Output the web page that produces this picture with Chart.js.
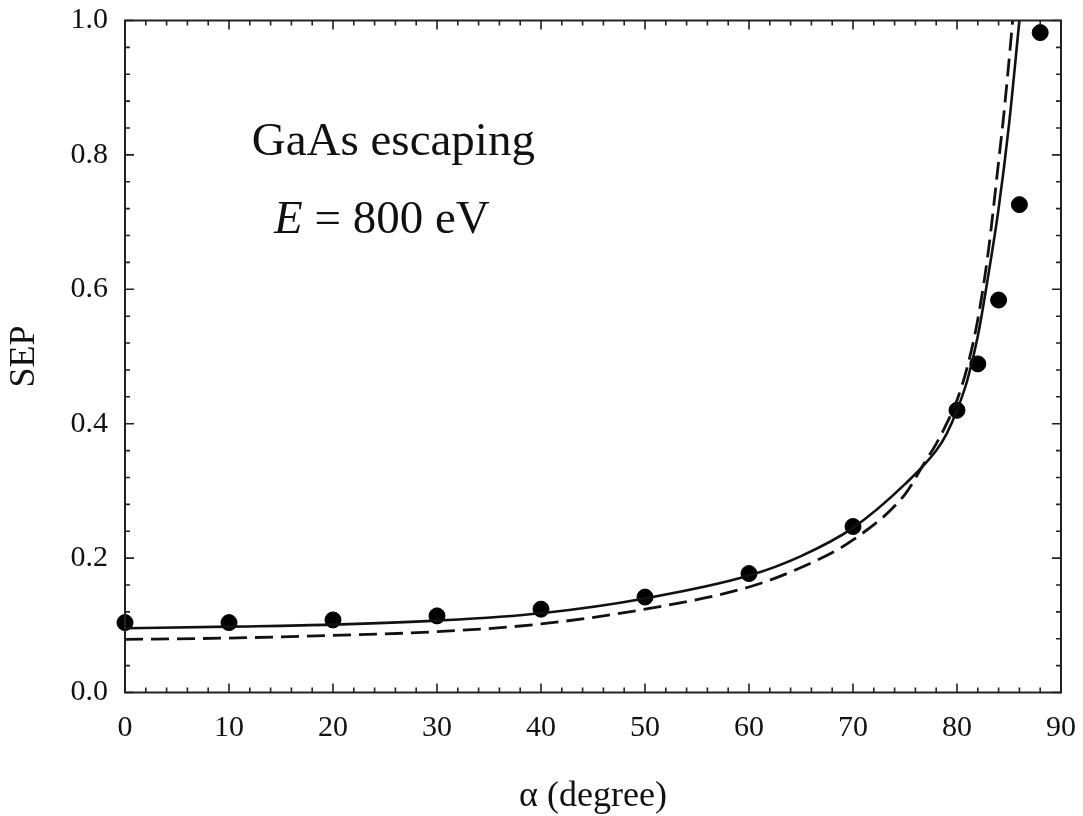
<!DOCTYPE html>
<html>
<head>
  <meta charset="utf-8">
  <title>GaAs escaping SEP</title>
  <script src="https://cdn.jsdelivr.net/npm/chart.js"></script>
  <style>
    body { margin: 0; background: #fff; }
    #wrap { width: 1083px; height: 816px; }
  </style>
</head>
<body>
  <div id="wrap"><canvas id="chart"></canvas></div>
  <script>
    // measured points (filled circles)
    const measAngle = [0, 10, 20, 30, 40, 50, 60, 70, 80, 82, 84, 86, 88];
    const measSEP   = [0.104, 0.104, 0.108, 0.114, 0.124, 0.142, 0.177, 0.247, 0.420, 0.489, 0.584, 0.726, 0.982];

    // solid curve
    const solidAngle = [0, 10, 20, 30, 40, 50, 60, 65, 70, 75, 78, 79, 80, 81, 82, 83, 84, 85, 86];
    const solidSEP   = [0.0955, 0.098, 0.101, 0.107, 0.118, 0.140, 0.174, 0.203, 0.245, 0.31, 0.36, 0.385, 0.42, 0.465, 0.53, 0.62, 0.72, 0.845, 1.0];

    // dashed curve
    const dashAngle = [0, 10, 20, 30, 40, 50, 60, 65, 70, 75, 77, 78, 79, 80, 81, 82, 83, 84, 84.5, 85, 85.35];
    const dashSEP   = [0.079, 0.081, 0.085, 0.0905, 0.102, 0.124, 0.157, 0.186, 0.227, 0.295, 0.345, 0.37, 0.40, 0.435, 0.485, 0.555, 0.655, 0.79, 0.86, 0.94, 1.0];

    const xTicks = [0, 10, 20, 30, 40, 50, 60, 70, 80, 90];
    const yTicks = [0, 0.2, 0.4, 0.6, 0.8, 1.0];

    const pts = (xs, ys) => xs.map((x, i) => ({ x: x, y: ys[i] }));

    const serif = '"Liberation Serif", "DejaVu Serif", serif';
    const ink = '#111';

    const noPad = s => { s.paddingTop = 0; s.paddingBottom = 0; s.paddingLeft = 0; s.paddingRight = 0; };

    // frame with inward major/minor ticks on all four sides
    const framePlugin = {
      id: 'frame',
      afterDatasetsDraw(chart) {
        const { ctx, chartArea: a, scales: { x, y } } = chart;
        ctx.save();
        ctx.strokeStyle = '#222';
        ctx.lineWidth = 2;
        ctx.strokeRect(a.left, a.top, a.right - a.left, a.bottom - a.top);
        ctx.lineWidth = 1.6;
        ctx.beginPath();
        for (let v = 0; v <= 90; v += 2) {
          const px = x.getPixelForValue(v);
          const len = v % 10 === 0 ? 9 : 5;
          ctx.moveTo(px, a.bottom); ctx.lineTo(px, a.bottom - len);
          ctx.moveTo(px, a.top); ctx.lineTo(px, a.top + len);
        }
        for (let k = 0; k <= 25; k++) {
          const v = k * 0.04;
          const py = y.getPixelForValue(v);
          const len = k % 5 === 0 ? 9 : 5;
          ctx.moveTo(a.left, py); ctx.lineTo(a.left + len, py);
          ctx.moveTo(a.right, py); ctx.lineTo(a.right - len, py);
        }
        ctx.stroke();

        // annotation
        ctx.fillStyle = ink;
        ctx.textBaseline = 'alphabetic';
        ctx.textAlign = 'center';
        ctx.font = '47px ' + serif;
        ctx.fillText('GaAs escaping', x.getPixelForValue(25.8), y.getPixelForValue(0.8));
        const rest = ' = 800 eV';
        ctx.font = 'italic 47px ' + serif;
        const wE = ctx.measureText('E').width;
        ctx.font = '47px ' + serif;
        const wR = ctx.measureText(rest).width;
        const cx = x.getPixelForValue(24.7);
        const by = y.getPixelForValue(0.684);
        const x0 = cx - (wE + wR) / 2;
        ctx.textAlign = 'left';
        ctx.font = 'italic 47px ' + serif;
        ctx.fillText('E', x0, by);
        ctx.font = '47px ' + serif;
        ctx.fillText(rest, x0 + wE, by);
        ctx.restore();
      }
    };

    new Chart(document.getElementById('chart'), {
      type: 'scatter',
      data: {
        datasets: [
          {
            type: 'line',
            data: pts(solidAngle, solidSEP),
            borderColor: ink,
            borderWidth: 2.6,
            pointRadius: 0,
            cubicInterpolationMode: 'monotone',
            fill: false
          },
          {
            type: 'line',
            data: pts(dashAngle, dashSEP),
            borderColor: ink,
            borderWidth: 2.8,
            borderDash: [18, 8],
            pointRadius: 0,
            cubicInterpolationMode: 'monotone',
            fill: false
          },
          {
            data: pts(measAngle, measSEP),
            backgroundColor: '#000',
            borderColor: '#000',
            borderWidth: 1,
            pointRadius: 8,
            clip: false
          }
        ]
      },
      options: {
        responsive: true,
        maintainAspectRatio: false,
        animation: false,
        layout: { padding: { left: 0, top: 20.5, right: 22, bottom: 0 } },
        plugins: { legend: { display: false }, tooltip: { enabled: false } },
        scales: {
          x: {
            type: 'linear',
            min: 0, max: 90,
            afterFit: s => { s.height = 123.5; noPad(s); },
            afterBuildTicks: s => { s.ticks = xTicks.map(v => ({ value: v })); },
            grid: { display: false, drawTicks: false },
            border: { display: false },
            ticks: { color: ink, padding: 18, font: { family: serif, size: 30 } },
            title: {
              display: true, text: 'α (degree)', color: ink,
              font: { family: serif, size: 36, lineHeight: 1 },
              padding: { bottom: 1 }
            }
          },
          y: {
            min: 0, max: 1,
            afterFit: s => { s.width = 125; noPad(s); },
            afterBuildTicks: s => { s.ticks = yTicks.map(v => ({ value: v })); },
            grid: { display: false, drawTicks: false },
            border: { display: false },
            ticks: {
              color: ink, padding: 17, font: { family: serif, size: 30 },
              callback: v => v.toFixed(1)
            },
            title: {
              display: true, text: 'SEP', color: ink,
              font: { family: serif, size: 36, lineHeight: 1 },
              padding: { top: 7 }
            }
          }
        }
      },
      plugins: [framePlugin]
    });
  </script>
</body>
</html>
